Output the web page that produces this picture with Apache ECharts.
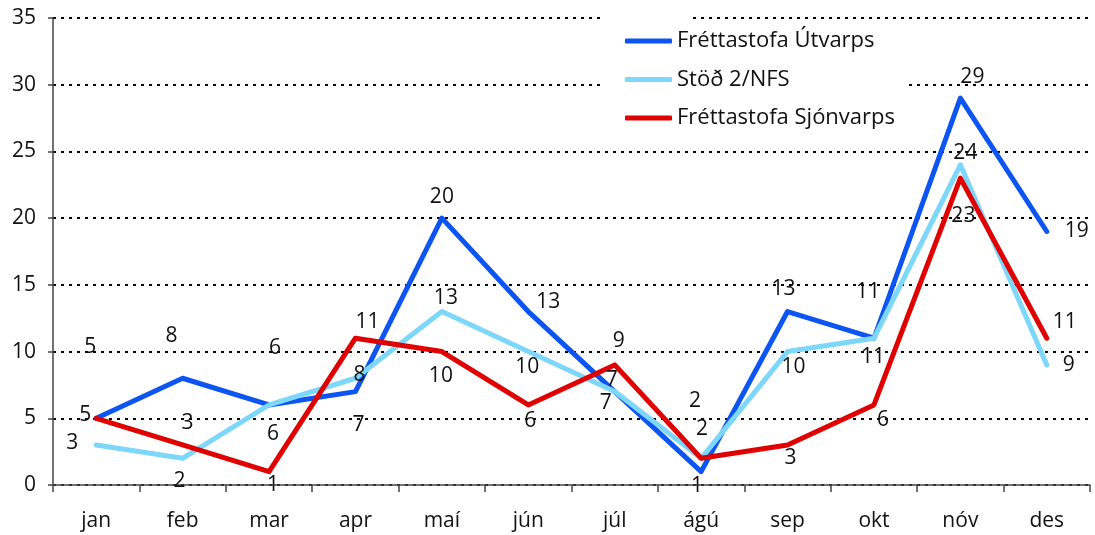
<!DOCTYPE html>
<html>
<head>
<meta charset="utf-8">
<script src="https://cdn.jsdelivr.net/npm/echarts@6/dist/echarts.min.js"></script>
<style>
  html, body { margin: 0; padding: 0; background: #fff; }
  #chart { width: 1095px; height: 535px; }
</style>
</head>
<body>
<div id="chart"></div>
<script>
// data
var months = ['jan', 'feb', 'mar', 'apr', 'maí', 'jún', 'júl', 'ágú', 'sep', 'okt', 'nóv', 'des'];
var seriesNames = ['Fréttastofa Útvarps', 'Stöð 2/NFS', 'Fréttastofa Sjónvarps'];
var utvarp = [5, 8, 6, 7, 20, 13, 7, 1, 13, 11, 29, 19];
var stod2 = [3, 2, 6, 8, 13, 10, 7, 2, 10, 11, 24, 9];
var sjonvarp = [5, 3, 1, 11, 10, 6, 9, 2, 3, 6, 23, 11];

// where each value label sits, relative to its point (px)
var utvarpOffsets = [[-6, -71], [-11, -42], [6, -57], [3, 33], [0, -21], [20, -10], [-3, -12], [-4, 14], [-4, -23], [-6, -46], [12, -21], [30, 0]];
var stod2Offsets = [[-24, -2], [-3, 23], [4, 29], [4, -3], [4, -14], [-1, 15], [-9, 11], [1, -29], [6, 15], [-1, 19], [5, -12], [22, 0]];
var sjonvarpOffsets = [[-11, -3], [5, -22], [4, 13], [12, -16], [-1, 24], [2, 16], [4, -24], [-6, -57], [3, 13], [9, 15], [3, 38], [18, -16]];

var FONT = '"Open Sans", sans-serif';

function buildData(values, offsets) {
  return values.map(function (v, i) {
    return { value: v, label: { offset: offsets[i] } };
  });
}

function buildSeries(name, values, offsets, color) {
  return {
    name: name,
    type: 'line',
    data: buildData(values, offsets),
    symbol: 'circle',
    symbolSize: 0.1,
    lineStyle: { color: color, width: 5, cap: 'round', join: 'round' },
    itemStyle: { color: color },
    label: {
      show: true,
      position: 'inside',
      color: '#111',
      fontFamily: FONT,
      fontSize: 21
    }
  };
}

var myChart = echarts.init(document.getElementById('chart'));

var option = {
  animation: false,
  backgroundColor: '#fff',
  grid: { left: 53, right: 5, top: 18, bottom: 50 },
  legend: {
    orient: 'vertical',
    left: 600,
    top: 22,
    padding: [8, 10, 12, 25],
    backgroundColor: '#fff',
    itemWidth: 47,
    itemHeight: 5,
    itemGap: 16.5,
    icon: 'roundRect',
    textStyle: { fontFamily: FONT, fontSize: 22, lineHeight: 22, color: '#111' },
    data: seriesNames
  },
  graphic: [{
    // gap in the top gridline next to the legend
    type: 'rect',
    shape: { x: 600, y: 14, width: 93, height: 8 },
    style: { fill: '#fff' },
    z: 100
  }],
  xAxis: {
    type: 'category',
    data: months,
    boundaryGap: true,
    axisLine: { lineStyle: { color: '#444', width: 1.5 } },
    axisTick: { show: true, inside: false, length: 7, lineStyle: { color: '#444', width: 1.5 } },
    axisLabel: { fontFamily: FONT, fontSize: 21, color: '#111', margin: 26 }
  },
  yAxis: {
    type: 'value',
    min: 0,
    max: 35,
    interval: 5,
    axisLine: { show: true, lineStyle: { color: '#444', width: 1.5 } },
    axisTick: { show: true, inside: false, length: 5, lineStyle: { color: '#444', width: 1.5 } },
    axisLabel: { fontFamily: FONT, fontSize: 21, color: '#111', margin: 17 },
    splitLine: { show: true, lineStyle: { color: '#000', width: 2, type: [3, 5] } }
  },
  series: [
    buildSeries(seriesNames[0], utvarp, utvarpOffsets, '#0d55f2'),
    buildSeries(seriesNames[1], stod2, stod2Offsets, '#7dd7fa'),
    buildSeries(seriesNames[2], sjonvarp, sjonvarpOffsets, '#e00000')
  ]
};

myChart.setOption(option);
</script>
</body>
</html>
